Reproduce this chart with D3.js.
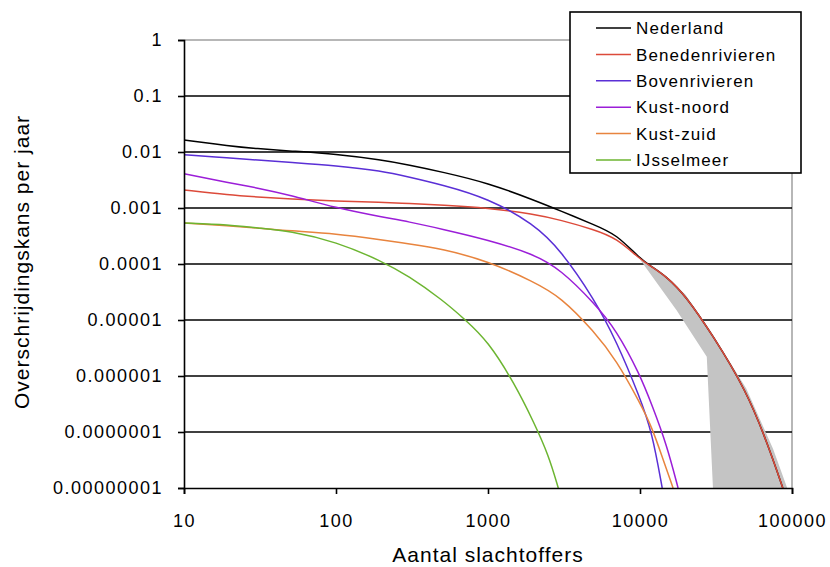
<!DOCTYPE html>
<html>
<head>
<meta charset="utf-8">
<script src="https://cdn.jsdelivr.net/npm/d3@7/dist/d3.min.js"></script>
<style>
    body { margin: 0; background: #fff; }
    svg { display: block; font-family: Arial, 'Liberation Sans', sans-serif; }
</style>
</head>
<body>
<div id="chart"></div>
<script>
// Aantal slachtoffers (x) per punt
var victims = [10, 20, 30, 50, 100, 200, 300, 500, 1000, 2000, 3000, 5000, 7000, 10000, 12000, 15000, 20000, 30000, 50000, 70000, 87000];

var nederland = [0.0164, 0.0128, 0.0115, 0.0104, 0.0092, 0.0072, 0.0059, 0.0044, 0.0028, 0.00139, 0.00089, 0.0005, 0.00034, 0.000124, 0.000089, 0.000059, 0.000027, 0.0000054, 0.00000056, 0.000000056, 0.00000001];
var benedenrivieren = [0.0021, 0.0017, 0.00158, 0.00145, 0.00133, 0.00126, 0.0012, 0.00113, 0.001, 0.00078, 0.00061, 0.00041, 0.00029, 0.000122, 0.000088, 0.000059, 0.000027, 0.0000054, 0.00000056, 0.000000056, 0.00000001];

var bovenX = [10, 20, 30, 50, 100, 200, 300, 500, 1000, 2000, 3000, 5000, 7000, 10000, 12000, 14000];
var bovenrivieren = [0.0089, 0.0078, 0.0072, 0.0065, 0.0057, 0.0046, 0.0036, 0.0026, 0.0015, 0.00052, 0.000178, 0.0000237, 0.0000042, 0.00000041, 0.0000001, 0.00000001];

var noordX = [10, 20, 30, 50, 100, 200, 300, 500, 1000, 2000, 3000, 5000, 7000, 10000, 12000, 15000, 17800];
var kustNoord = [0.0041, 0.0028, 0.0023, 0.0017, 0.001, 0.00069, 0.00057, 0.00042, 0.00027, 0.00015, 0.00008, 0.00002, 0.0000066, 0.00000105, 0.0000003, 0.000000059, 0.00000001];

var zuidX = [10, 20, 30, 50, 100, 200, 300, 500, 1000, 2000, 3000, 5000, 7000, 10000, 12000, 14000, 16500];
var kustZuid = [0.00054, 0.00048, 0.00044, 0.00039, 0.00035, 0.00027, 0.00023, 0.000186, 0.000113, 0.000048, 0.000026, 0.0000062, 0.0000019, 0.00000033, 0.00000012, 0.000000036, 0.00000001];

var ijsselX = [10, 20, 30, 50, 100, 200, 300, 500, 700, 1000, 1500, 2000, 2500, 2900];
var ijsselmeer = [0.00054, 0.0005, 0.00044, 0.00039, 0.00025, 0.000113, 0.000061, 0.000023, 0.0000104, 0.0000042, 0.00000072, 0.00000015, 0.000000039, 0.00000001];

// grijze band (onzekerheid) : linker- en rechtergrens
var bandLeftX = [10000, 17400, 27500, 30200];
var bandLeftP = [0.00012, 0.000015, 0.0000022, 0.00000001];
var bandRightX = [10000, 15000, 20000, 30000, 50000, 75000, 93000];
var bandRightP = [0.00012, 0.00006, 0.000028, 0.0000056, 0.0000006, 0.00000005, 0.00000001];

var xTicks = [10, 100, 1000, 10000, 100000];
var xTickLabels = ['10', '100', '1000', '10000', '100000'];
var yTicks = [1, 0.1, 0.01, 0.001, 0.0001, 0.00001, 0.000001, 0.0000001, 0.00000001];
var yTickLabels = ['1', '0.1', '0.01', '0.001', '0.0001', '0.00001', '0.000001', '0.0000001', '0.00000001'];

var seriesNames = ['Nederland', 'Benedenrivieren', 'Bovenrivieren', 'Kust-noord', 'Kust-zuid', 'IJsselmeer'];
var seriesColors = ['#000000', '#dc4a3a', '#5a2fd6', '#9b1ed8', '#e8843e', '#6cb531'];

(function() {
    'use strict';

    var width = 830, height = 567;
    var plot = { left: 184, right: 792, top: 40, bottom: 488 };

    var svg = d3.select('#chart').append('svg')
        .attr('width', width)
        .attr('height', height);

    var x = d3.scaleLog().domain([10, 100000]).range([plot.left, plot.right]);
    var y = d3.scaleLog().domain([1e-8, 1]).range([plot.bottom, plot.top]);

    svg.append('clipPath').attr('id', 'plotclip')
        .append('rect')
        .attr('x', plot.left)
        .attr('y', plot.top)
        .attr('width', plot.right - plot.left)
        .attr('height', plot.bottom - plot.top);

    // plot border (grey) top and right
    svg.append('path')
        .attr('d', 'M' + plot.left + ',' + plot.top + 'H' + plot.right + 'V' + plot.bottom)
        .style('fill', 'none')
        .style('stroke', '#a0a0a0')
        .style('stroke-width', 1.5);

    // horizontal gridlines
    svg.append('g').selectAll('line')
        .data(yTicks.slice(1, -1))
        .enter().append('line')
        .attr('x1', plot.left)
        .attr('x2', plot.right)
        .attr('y1', function(d) { return y(d); })
        .attr('y2', function(d) { return y(d); })
        .style('stroke', '#000')
        .style('stroke-width', 1.6);

    var main = svg.append('g').attr('clip-path', 'url(#plotclip)');

    // grey band
    var band = bandLeftX.map(function(v, i) { return [v, bandLeftP[i]]; })
        .concat(bandRightX.map(function(v, i) { return [v, bandRightP[i]]; }).reverse());
    main.append('path')
        .attr('d', d3.line()
            .x(function(d) { return x(d[0]); })
            .y(function(d) { return y(d[1]); })(band) + 'Z')
        .style('fill', '#c4c4c4')
        .style('stroke', 'none');

    var series = [
        { xs: victims, ys: nederland },
        { xs: victims, ys: benedenrivieren },
        { xs: bovenX, ys: bovenrivieren },
        { xs: noordX, ys: kustNoord },
        { xs: zuidX, ys: kustZuid },
        { xs: ijsselX, ys: ijsselmeer }
    ];

    var line = d3.line()
        .x(function(d) { return x(d[0]); })
        .y(function(d) { return y(d[1]); })
        .curve(d3.curveBasis);

    series.forEach(function(s, i) {
        var pts = s.xs.map(function(v, j) { return [v, s.ys[j]]; });
        main.append('path')
            .attr('d', line(pts))
            .style('fill', 'none')
            .style('stroke', seriesColors[i])
            .style('stroke-width', 1.5);
    });

    // axes
    var xAxis = d3.axisBottom(x)
        .tickValues(xTicks)
        .tickFormat(function(d, i) { return xTickLabels[i]; })
        .tickSizeOuter(0)
        .tickSize(6)
        .tickPadding(20);
    var gx = svg.append('g')
        .attr('transform', 'translate(0,' + plot.bottom + ')')
        .call(xAxis);

    var yAxis = d3.axisLeft(y)
        .tickValues(yTicks)
        .tickFormat(function(d, i) { return yTickLabels[i]; })
        .tickSizeOuter(0)
        .tickSize(6)
        .tickPadding(15);
    var gy = svg.append('g')
        .attr('transform', 'translate(' + plot.left + ',0)')
        .call(yAxis);

    [gx, gy].forEach(function(g) {
        g.select('.domain').style('stroke', '#000').style('stroke-width', 1.6);
        g.selectAll('.tick line').style('stroke', '#000').style('stroke-width', 1.6);
        g.selectAll('.tick text')
            .style('font-size', '18px')
            .style('letter-spacing', '1.5px')
            .style('fill', '#000');
    });

    // axis titles
    svg.append('text')
        .attr('x', (plot.left + plot.right) / 2)
        .attr('y', 562)
        .attr('text-anchor', 'middle')
        .style('font-size', '21px')
        .style('letter-spacing', '1px')
        .text('Aantal slachtoffers');

    svg.append('text')
        .attr('transform', 'translate(29,262) rotate(-90)')
        .attr('text-anchor', 'middle')
        .style('font-size', '21px')
        .style('letter-spacing', '1px')
        .text('Overschrijdingskans per jaar');

    // legend
    var legend = svg.append('g').attr('transform', 'translate(570,12)');
    legend.append('rect')
        .attr('width', 231)
        .attr('height', 161)
        .style('fill', '#fff')
        .style('stroke', '#000')
        .style('stroke-width', 1.6);

    var items = legend.selectAll('g.item')
        .data(seriesNames)
        .enter().append('g')
        .attr('class', 'item')
        .attr('transform', function(d, i) { return 'translate(0,' + (16 + i * 26.4) + ')'; });

    items.append('line')
        .attr('x1', 26)
        .attr('x2', 61)
        .style('stroke', function(d, i) { return seriesColors[i]; })
        .style('stroke-width', 1.5);

    items.append('text')
        .attr('x', 66)
        .attr('dy', '0.36em')
        .style('font-size', '17px')
        .style('letter-spacing', '1.1px')
        .text(function(d) { return d; });
})();
</script>
</body>
</html>
